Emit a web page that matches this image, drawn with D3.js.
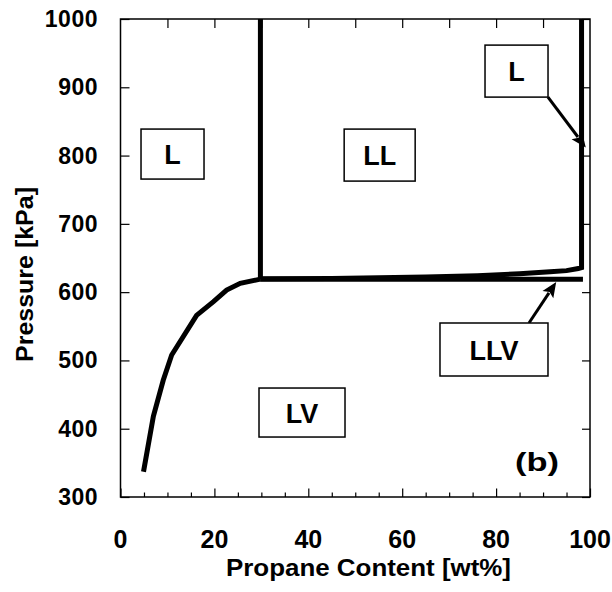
<!DOCTYPE html>
<html>
<head>
<meta charset="utf-8">
<script src="https://cdn.jsdelivr.net/npm/d3@7"></script>
<style>
  body { margin: 0; background: #fff; }
  text { font-family: Arial, "Liberation Sans", sans-serif; font-weight: bold; fill: #000; }
</style>
</head>
<body>
<svg id="chart" width="612" height="592"></svg>
<script>
// Axis ticks
const xTickLabels = [0, 20, 40, 60, 80, 100];
const yTickLabels = [300, 400, 500, 600, 700, 800, 900, 1000];

// Bubble-point curve (LV / L boundary, ending at the three-phase line)
const bubbleX = [4.9, 7.0, 9.1, 10.9, 16.2, 19.8, 22.6, 25.5, 29.8];
const bubbleP = [337, 418, 471, 508, 566, 586, 603, 613, 619];

// L / LL boundary at low propane content
const llLeftX = [29.8, 29.8];
const llLeftP = [619, 1000];

// Three-phase LLV line
const llvX = [29.8, 98.5];
const llvP = [619, 619];

// Upper LL boundary, rising towards the propane-rich side
const llUpperX = [29.8, 45, 55, 65, 76, 85, 91.5, 95, 97.5, 98.2, 98.2];
const llUpperP = [619.5, 620, 621, 622, 624, 627, 630, 631.5, 634.5, 636, 1000];

// Region names
const regionNames = ["L", "LL", "LV", "L", "LLV"];

const svg = d3.select("#chart");
const plotLeft = 120.5, plotRight = 590, plotTop = 19, plotBottom = 497;

const x = d3.scaleLinear().domain([0, 100]).range([plotLeft, plotRight]);
const y = d3.scaleLinear().domain([300, 1000]).range([plotBottom, plotTop]);

// Frame
svg.append("rect")
  .attr("x", plotLeft).attr("y", plotTop)
  .attr("width", plotRight - plotLeft).attr("height", plotBottom - plotTop)
  .attr("fill", "none").attr("stroke", "#000").attr("stroke-width", 1.5);

// Inward ticks on all four sides
const axisStyle = g => {
  g.select(".domain").remove();
  g.selectAll(".tick line").attr("stroke", "#000").attr("stroke-width", 1.2);
  g.selectAll(".tick text").remove();
};
svg.append("g").attr("transform", `translate(0,${plotBottom})`)
  .call(d3.axisBottom(x).tickValues(d3.range(0, 101, 5).filter(v => v % 20 !== 0)).tickSize(-4.5))
  .call(axisStyle);
svg.append("g").attr("transform", `translate(0,${plotBottom})`)
  .call(d3.axisBottom(x).tickValues(xTickLabels).tickSize(-8.5))
  .call(axisStyle);
svg.append("g").attr("transform", `translate(0,${plotTop})`)
  .call(d3.axisTop(x).tickValues(d3.range(10, 100, 10)).tickSize(-9))
  .call(axisStyle);
svg.append("g").attr("transform", `translate(${plotLeft},0)`)
  .call(d3.axisLeft(y).tickValues(yTickLabels).tickSize(-9))
  .call(axisStyle);
svg.append("g").attr("transform", `translate(${plotRight},0)`)
  .call(d3.axisRight(y).tickValues(yTickLabels).tickSize(-8))
  .call(axisStyle);

// Tick labels
svg.append("g").selectAll("text").data(xTickLabels).join("text")
  .attr("x", d => x(d)).attr("y", 548)
  .attr("text-anchor", "middle").attr("font-size", 25)
  .text(d => d);
svg.append("g").selectAll("text").data(yTickLabels).join("text")
  .attr("x", 98).attr("y", d => y(d) + 8)
  .attr("text-anchor", "end").attr("font-size", 23).attr("letter-spacing", 0.5)
  .text(d => d);

// Axis titles
svg.append("text")
  .attr("x", 368.5 - 142.5).attr("y", 576)
  .attr("font-size", 23)
  .attr("textLength", 285).attr("lengthAdjust", "spacingAndGlyphs")
  .text("Propane Content [wt%]");
svg.append("text")
  .attr("transform", "translate(33,362) rotate(-90)")
  .attr("font-size", 23)
  .attr("textLength", 175).attr("lengthAdjust", "spacingAndGlyphs")
  .text("Pressure [kPa]");

// Phase boundaries
const line = d3.line().x(d => x(d[0])).y(d => y(d[1]));
const boundaries = [
  [bubbleX, bubbleP],
  [llLeftX, llLeftP],
  [llvX, llvP],
  [llUpperX, llUpperP]
];
svg.append("g").selectAll("path").data(boundaries).join("path")
  .attr("d", ([xs, ps]) => line(xs.map((v, i) => [v, ps[i]])))
  .attr("fill", "none").attr("stroke", "#000")
  .attr("stroke-width", 5).attr("stroke-linejoin", "miter");

// Region label boxes (centre in data units, size in px)
const boxes = [
  { cx: 11.08, cp: 802.2, w: 63, h: 50 },
  { cx: 55.2,  cp: 800.7, w: 71, h: 52 },
  { cx: 38.66, cp: 423.7, w: 86, h: 49 },
  { cx: 84.35, cp: 923.7, w: 63, h: 52 },
  { cx: 79.55, cp: 516,   w: 108, h: 53 }
];

// Arrows from the label boxes to the boundaries they name
const arrows = [
  { x1: 91.05, p1: 885.6, x2: 99.1, p2: 812 },
  { x1: 87.0,  p1: 554.8, x2: 92.8, p2: 614.8 }
];
const headLen = 15, headHalf = 6.5;
const arrowG = svg.append("g").selectAll("g").data(arrows).join("g");
arrowG.each(function (d) {
  const ax = x(d.x1), ay = y(d.p1), bx = x(d.x2), by = y(d.p2);
  const len = Math.hypot(bx - ax, by - ay);
  const ux = (bx - ax) / len, uy = (by - ay) / len;
  const baseX = bx - ux * headLen, baseY = by - uy * headLen;
  const g = d3.select(this);
  g.append("line")
    .attr("x1", ax).attr("y1", ay)
    .attr("x2", baseX + ux * 2).attr("y2", baseY + uy * 2)
    .attr("stroke", "#000").attr("stroke-width", 3);
  g.append("path")
    .attr("d", `M${bx},${by} L${baseX - uy * headHalf},${baseY + ux * headHalf} ` +
               `L${baseX + ux * 3},${baseY + uy * 3} L${baseX + uy * headHalf},${baseY - ux * headHalf} Z`)
    .attr("fill", "#000");
});

const boxG = svg.append("g").selectAll("g").data(boxes).join("g")
  .attr("transform", d => `translate(${x(d.cx)},${y(d.cp)})`);
boxG.append("rect")
  .attr("x", d => -d.w / 2).attr("y", d => -d.h / 2)
  .attr("width", d => d.w).attr("height", d => d.h)
  .attr("fill", "#fff").attr("stroke", "#000").attr("stroke-width", 1.5);
boxG.append("text")
  .attr("x", 0).attr("y", 10)
  .attr("text-anchor", "middle").attr("font-size", 27)
  .text((d, i) => regionNames[i]);

// Panel tag
svg.append("text")
  .attr("x", x(88.7) - 22).attr("y", y(338))
  .attr("font-size", 26)
  .attr("textLength", 44).attr("lengthAdjust", "spacingAndGlyphs")
  .text("(b)");
</script>
</body>
</html>
